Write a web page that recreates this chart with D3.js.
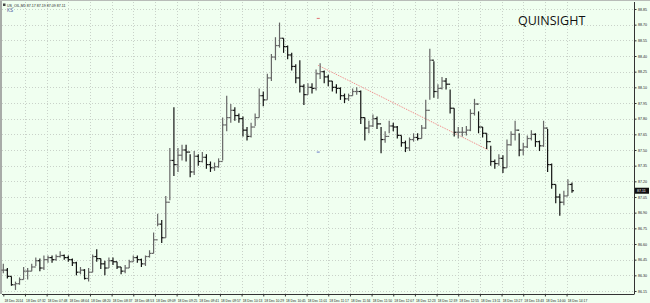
<!DOCTYPE html>
<html>
<head>
<meta charset="utf-8">
<script src="https://cdn.jsdelivr.net/npm/d3@7"></script>
<style>
  body { margin: 0; background: #f0fff0; }
  svg { display: block; }
</style>
</head>
<body>
<div id="chart"></div>
<script>
// chart texts
const symbol = "US_OIL,M1";
const indicatorName = "KS";
const watermark = "QUINSIGHT";

// one drawn bar = 3 one-minute bars
const barStep = 3;

// bar highs / lows / closes
const highs = [
  86.41, 86.37, 86.29, 86.24, 86.28, 86.38, 86.37, 86.41, 86.47, 86.46,
  86.49, 86.49, 86.49, 86.50, 86.53, 86.50, 86.49, 86.46, 86.43, 86.38,
  86.36, 86.37, 86.50, 86.55, 86.46, 86.44, 86.47, 86.47, 86.43, 86.38,
  86.40, 86.45, 86.49, 86.49, 86.46, 86.49, 86.54, 86.71, 86.89, 86.83,
  87.06, 87.52, 87.91, 87.52, 87.55, 87.55, 87.46, 87.49, 87.46, 87.48,
  87.46, 87.39, 87.38, 87.42, 87.81, 88.02, 87.94, 87.91, 87.85, 87.82,
  87.72, 87.76, 87.85, 88.09, 88.06, 88.23, 88.42, 88.58, 88.72, 88.57,
  88.50, 88.43, 88.32, 88.36, 88.13, 88.14, 88.14, 88.27, 88.33, 88.26,
  88.22, 88.16, 88.13, 88.10, 88.04, 88.04, 88.09, 88.10, 88.07, 87.81,
  87.78, 87.84, 87.82, 87.72, 87.68, 87.78, 87.76, 87.73, 87.64, 87.59,
  87.62, 87.66, 87.66, 87.74, 87.98, 88.47, 88.35, 88.13, 88.20, 88.19,
  88.08, 87.90, 87.72, 87.72, 87.73, 87.89, 87.99, 87.87, 87.72, 87.66,
  87.54, 87.41, 87.46, 87.45, 87.60, 87.68, 87.78, 87.66, 87.57, 87.64,
  87.69, 87.66, 87.59, 87.78, 87.70, 87.37, 87.17, 87.08, 87.11, 87.22,
  87.19
];
const lows = [
  86.32, 86.27, 86.20, 86.16, 86.21, 86.26, 86.26, 86.34, 86.39, 86.34,
  86.35, 86.42, 86.42, 86.44, 86.47, 86.45, 86.43, 86.39, 86.30, 86.31,
  86.26, 86.24, 86.33, 86.43, 86.36, 86.30, 86.37, 86.40, 86.36, 86.31,
  86.32, 86.37, 86.43, 86.42, 86.38, 86.39, 86.47, 86.51, 86.77, 86.61,
  86.66, 87.02, 87.25, 87.29, 87.40, 87.39, 87.24, 87.26, 87.35, 87.38,
  87.32, 87.29, 87.30, 87.33, 87.40, 87.68, 87.76, 87.78, 87.76, 87.63,
  87.59, 87.62, 87.73, 87.81, 87.92, 87.98, 88.16, 88.36, 88.48, 88.43,
  88.37, 88.26, 88.14, 88.05, 87.93, 88.03, 88.04, 88.07, 88.18, 88.14,
  88.11, 88.06, 88.04, 87.98, 87.95, 87.97, 88.02, 88.03, 87.75, 87.59,
  87.66, 87.72, 87.70, 87.47, 87.57, 87.66, 87.68, 87.61, 87.53, 87.48,
  87.49, 87.58, 87.59, 87.61, 87.70, 87.98, 88.00, 87.99, 88.08, 88.08,
  87.85, 87.63, 87.61, 87.63, 87.64, 87.68, 87.83, 87.66, 87.62, 87.51,
  87.35, 87.32, 87.35, 87.28, 87.33, 87.54, 87.59, 87.44, 87.45, 87.52,
  87.59, 87.53, 87.49, 87.53, 87.29, 87.13, 86.99, 86.87, 86.97, 87.06,
  87.09
];
const closes = [
  86.35, 86.29, 86.21, 86.22, 86.26, 86.34, 86.34, 86.38, 86.44, 86.37,
  86.45, 86.47, 86.45, 86.48, 86.49, 86.47, 86.45, 86.42, 86.33, 86.35,
  86.27, 86.33, 86.48, 86.46, 86.41, 86.37, 86.44, 86.43, 86.38, 86.34,
  86.37, 86.43, 86.47, 86.45, 86.41, 86.48, 86.51, 86.64, 86.79, 86.66,
  87.00, 87.40, 87.36, 87.45, 87.50, 87.48, 87.29, 87.44, 87.39, 87.43,
  87.36, 87.33, 87.34, 87.39, 87.74, 87.81, 87.88, 87.83, 87.80, 87.69,
  87.63, 87.72, 87.81, 88.02, 87.98, 88.19, 88.39, 88.50, 88.57, 88.49,
  88.41, 88.30, 88.19, 88.11, 88.03, 88.10, 88.09, 88.23, 88.25, 88.20,
  88.16, 88.10, 88.09, 88.02, 87.99, 88.02, 88.06, 88.06, 87.81, 87.71,
  87.73, 87.80, 87.75, 87.60, 87.63, 87.73, 87.72, 87.64, 87.57, 87.52,
  87.60, 87.62, 87.61, 87.71, 87.88, 88.36, 88.06, 88.09, 88.16, 88.13,
  87.90, 87.67, 87.67, 87.67, 87.69, 87.85, 87.94, 87.72, 87.66, 87.58,
  87.39, 87.37, 87.42, 87.33, 87.55, 87.65, 87.69, 87.50, 87.53, 87.61,
  87.65, 87.58, 87.54, 87.71, 87.36, 87.17, 87.05, 87.00, 87.06, 87.17,
  87.11
];

// axis ticks
const timeLabels = [
  "18 Dec 2014", "18 Dec 07:32", "18 Dec 07:48", "18 Dec 08:04", "18 Dec 08:20",
  "18 Dec 08:37", "18 Dec 08:53", "18 Dec 09:09", "18 Dec 09:25", "18 Dec 09:41",
  "18 Dec 09:57", "18 Dec 10:13", "18 Dec 10:29", "18 Dec 10:45", "18 Dec 11:01",
  "18 Dec 11:17", "18 Dec 11:34", "18 Dec 11:50", "18 Dec 12:07", "18 Dec 12:23",
  "18 Dec 12:39", "18 Dec 12:55", "18 Dec 13:11", "18 Dec 13:27", "18 Dec 13:43",
  "18 Dec 14:00", "18 Dec 14:17"
];
const barsPerLabel = 16;
const priceTicks = [
  86.15, 86.30, 86.45, 86.60, 86.75, 86.90, 87.05, 87.20, 87.35, 87.50,
  87.65, 87.80, 87.95, 88.10, 88.25, 88.40, 88.55, 88.70, 88.85
];

// drawn objects (bar index in minutes, price)
const trendStart = { bar: 232.6, price: 88.31 };
const trendEnd = { bar: 358.2, price: 87.50 };
const highMark = { bar: 232.6, price: 88.76 };
const lowMark = { bar: 232.6, price: 87.48 };

// layout
const W = 650, H = 303;
const plot = { left: 2, top: 2, right: 634, bottom: 294 };

const svg = d3.select("#chart")
  .append("svg")
  .attr("width", W)
  .attr("height", H)
  .style("font-family", "'Liberation Sans', Arial, sans-serif");

svg.append("rect")
  .attr("width", W).attr("height", H)
  .attr("fill", "#f0fff0");

// gray frame at left and top
svg.append("rect").attr("x", 0).attr("y", 0).attr("width", 2).attr("height", plot.bottom).attr("fill", "#a8aca8");
svg.append("rect").attr("x", 0).attr("y", 0).attr("width", W).attr("height", 1).attr("fill", "#b8bcb8");

const x = d3.scaleLinear().domain([0, 465.8]).range([3.3, plot.right]);
const y = d3.scaleLinear().domain([86.15, 88.85]).range([291, 9]);

const labelBars = timeLabels.map((d, i) => i * barsPerLabel);

// grid
const grid = svg.append("g")
  .attr("stroke", "#c9d2c9")
  .attr("stroke-width", 1)
  .attr("stroke-dasharray", "1,2");

grid.selectAll(".hgrid")
  .data(priceTicks)
  .enter().append("line")
  .attr("x1", plot.left).attr("x2", plot.right)
  .attr("y1", d => Math.round(y(d)) + 0.5)
  .attr("y2", d => Math.round(y(d)) + 0.5);

grid.selectAll(".vgrid")
  .data(labelBars.slice(1))
  .enter().append("line")
  .attr("y1", plot.top).attr("y2", plot.bottom)
  .attr("x1", d => Math.round(x(d)) + 0.5)
  .attr("x2", d => Math.round(x(d)) + 0.5);

// watermark + header
svg.append("text")
  .attr("x", 518).attr("y", 25)
  .attr("font-family", "'Open Sans', sans-serif")
  .attr("font-size", "12.5px")
  .attr("fill", "#111")
  .text(watermark);

const last = closes.length - 1;
svg.append("rect").attr("x", 3).attr("y", 3.5).attr("width", 2.5).attr("height", 2.5).attr("fill", "#444");
svg.append("text")
  .attr("x", 7).attr("y", 6.5)
  .attr("font-size", "3.6px")
  .attr("fill", "#222")
  .text(`${symbol}  ${closes[last - 1].toFixed(2)} ${highs[last].toFixed(2)} ${lows[last].toFixed(2)} ${closes[last].toFixed(2)}`);
svg.append("text")
  .attr("x", 7).attr("y", 12)
  .attr("font-size", "4.6px")
  .attr("fill", "#4a5aa0")
  .text(indicatorName);

// trend line
svg.append("line")
  .attr("x1", x(trendStart.bar)).attr("y1", y(trendStart.price))
  .attr("x2", x(trendEnd.bar)).attr("y2", y(trendEnd.price))
  .attr("stroke", "#f08080")
  .attr("stroke-width", 1)
  .attr("stroke-dasharray", "1,1");

svg.append("line")
  .attr("x1", x(highMark.bar) - 1.5).attr("x2", x(highMark.bar) + 1.5)
  .attr("y1", y(highMark.price)).attr("y2", y(highMark.price))
  .attr("stroke", "#e07070");
svg.append("line")
  .attr("x1", x(lowMark.bar) - 1.5).attr("x2", x(lowMark.bar) + 1.5)
  .attr("y1", y(lowMark.price)).attr("y2", y(lowMark.price))
  .attr("stroke", "#6a7ac8");

// OHLC bars
const bars = closes.map((c, i) => ({
  bar: i * barStep,
  open: i === 0 ? lows[0] + 0.03 : closes[i - 1],
  high: highs[i],
  low: lows[i],
  close: c
}));

const barG = svg.append("g").attr("stroke-width", 1.2);
bars.forEach(d => {
  const cx = x(d.bar);
  const col = d.close >= d.open ? "#666666" : "#141414";
  barG.append("line")
    .attr("x1", cx).attr("x2", cx)
    .attr("y1", y(d.high)).attr("y2", y(d.low))
    .attr("stroke", col);
  barG.append("line")
    .attr("x1", cx - 2).attr("x2", cx)
    .attr("y1", y(d.open)).attr("y2", y(d.open))
    .attr("stroke", col);
  barG.append("line")
    .attr("x1", cx).attr("x2", cx + 2)
    .attr("y1", y(d.close)).attr("y2", y(d.close))
    .attr("stroke", col);
});

// axes
const yAxis = svg.append("g")
  .attr("transform", `translate(${plot.right + 0.5},0)`)
  .call(d3.axisRight(y).tickValues(priceTicks).tickSize(2).tickPadding(1.5).tickFormat(d3.format(".2f")));
yAxis.select(".domain").attr("d", `M0,${plot.top}V${plot.bottom}`).attr("stroke", "#333");
yAxis.selectAll("line").attr("stroke", "#333");
yAxis.selectAll("text").attr("font-size", "3.6px").attr("fill", "#222");

const xAxis = svg.append("g")
  .attr("transform", `translate(0,${plot.bottom + 0.5})`)
  .call(d3.axisBottom(x).tickValues(labelBars).tickSize(2).tickPadding(3).tickFormat((d, i) => timeLabels[i]));
xAxis.select(".domain").attr("d", `M${plot.left},0H${plot.right + 0.5}`).attr("stroke", "#333");
xAxis.selectAll("line").attr("stroke", "#333");
xAxis.selectAll("text")
  .attr("text-anchor", "start")
  .attr("dx", "0.6")
  .attr("font-size", "3.3px")
  .attr("fill", "#222");

// current price tag
const lastPrice = closes[last];
svg.append("rect")
  .attr("x", plot.right + 1).attr("y", y(lastPrice) - 3)
  .attr("width", 14).attr("height", 6)
  .attr("fill", "#111");
svg.append("text")
  .attr("x", plot.right + 3).attr("y", y(lastPrice) + 1.3)
  .attr("font-size", "3.6px")
  .attr("fill", "#fff")
  .text(lastPrice.toFixed(2));
</script>
</body>
</html>
